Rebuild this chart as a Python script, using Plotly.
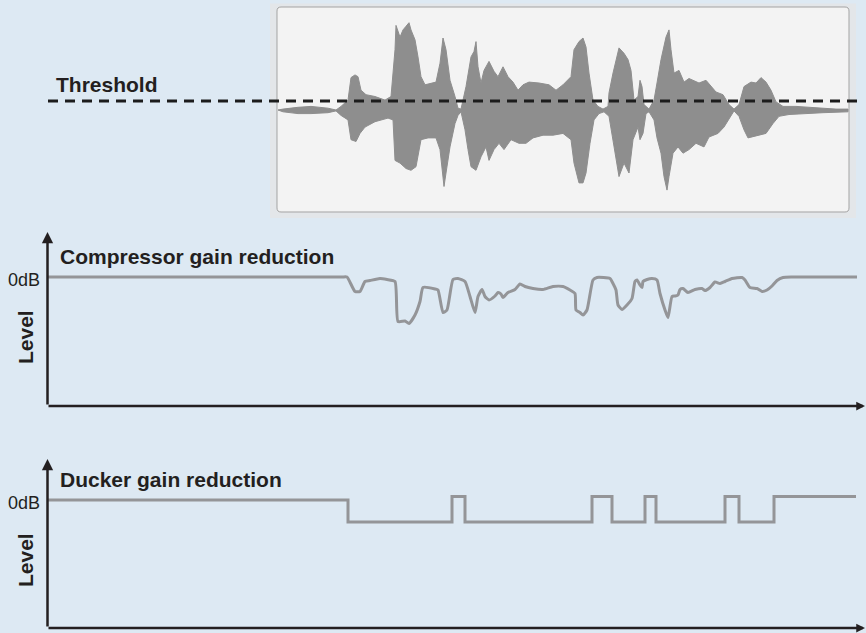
import plotly.graph_objects as go

# ---------------- data ----------------
# waveform envelope (time in s, normalised amplitude)
wave_up_t = [2.31, 2.36, 2.51, 2.64, 2.81, 2.89, 2.94, 3.01, 3.04, 3.08, 3.11, 3.14, 3.19, 3.28, 3.38, 3.44,
             3.48, 3.49, 3.53, 3.56, 3.59, 3.62, 3.64, 3.68, 3.71, 3.74, 3.78, 3.84, 3.89, 3.93, 3.96, 3.99,
             4.03, 4.08, 4.11, 4.14, 4.18, 4.19, 4.24, 4.27, 4.29, 4.31, 4.34, 4.37, 4.42, 4.47, 4.51, 4.56,
             4.61, 4.66, 4.71, 4.76, 4.82, 4.92, 5.02, 5.09, 5.16, 5.24, 5.27, 5.32, 5.36, 5.39, 5.42, 5.46,
             5.51, 5.56, 5.61, 5.62, 5.66, 5.72, 5.77, 5.81, 5.84, 5.87, 5.91, 5.93, 5.95, 5.97, 6.02, 6.07,
             6.10, 6.14, 6.19, 6.22, 6.24, 6.27, 6.32, 6.37, 6.42, 6.52, 6.59, 6.64, 6.69, 6.76, 6.82, 6.87,
             6.92, 6.97, 7.04, 7.09, 7.14, 7.19, 7.24, 7.29, 7.36, 7.49, 7.62, 7.76, 7.89, 8.01]
wave_up = [0.00, 0.01, 0.03, 0.04, 0.02, 0.00, 0.04, 0.11, 0.36, 0.39, 0.37, 0.22, 0.17, 0.15, 0.11, 0.15,
           0.67, 0.94, 0.81, 0.89, 0.93, 0.97, 0.89, 0.78, 0.59, 0.37, 0.28, 0.30, 0.31, 0.52, 0.80, 0.67,
           0.33, 0.15, 0.02, 0.01, 0.22, 0.26, 0.59, 0.65, 0.76, 0.48, 0.30, 0.44, 0.54, 0.43, 0.37, 0.48,
           0.37, 0.31, 0.22, 0.28, 0.31, 0.30, 0.28, 0.22, 0.28, 0.37, 0.67, 0.76, 0.80, 0.70, 0.41, 0.11,
           0.04, 0.01, 0.04, 0.19, 0.41, 0.69, 0.63, 0.56, 0.44, 0.11, 0.15, 0.33, 0.26, 0.06, 0.01, 0.11,
           0.30, 0.56, 0.81, 0.89, 0.67, 0.41, 0.44, 0.31, 0.35, 0.30, 0.33, 0.26, 0.20, 0.17, 0.06, 0.01,
           0.06, 0.26, 0.31, 0.30, 0.36, 0.31, 0.22, 0.09, 0.04, 0.04, 0.03, 0.02, 0.01, 0.01]
wave_lo_t = [2.31, 2.36, 2.51, 2.64, 2.81, 2.89, 2.94, 3.01, 3.04, 3.09, 3.13, 3.18, 3.28, 3.41, 3.46, 3.48,
             3.53, 3.59, 3.64, 3.69, 3.74, 3.81, 3.89, 3.93, 3.97, 3.99, 4.03, 4.08, 4.11, 4.14, 4.18, 4.21,
             4.24, 4.29, 4.34, 4.39, 4.42, 4.47, 4.52, 4.57, 4.64, 4.72, 4.79, 4.86, 4.96, 5.06, 5.16, 5.24,
             5.27, 5.32, 5.36, 5.39, 5.43, 5.47, 5.52, 5.57, 5.62, 5.67, 5.72, 5.77, 5.82, 5.86, 5.91, 5.93,
             5.96, 5.99, 6.02, 6.07, 6.10, 6.14, 6.17, 6.20, 6.22, 6.26, 6.31, 6.36, 6.42, 6.49, 6.57, 6.62,
             6.71, 6.77, 6.84, 6.87, 6.92, 6.97, 7.01, 7.06, 7.11, 7.19, 7.26, 7.32, 7.42, 7.56, 7.76, 8.01]
wave_lo = [0.00, -0.02, -0.04, -0.04, -0.03, -0.01, -0.06, -0.11, -0.33, -0.35, -0.26, -0.19, -0.13, -0.09, -0.11, -0.56,
           -0.59, -0.65, -0.67, -0.63, -0.33, -0.31, -0.31, -0.44, -0.85, -0.70, -0.41, -0.15, -0.06, -0.02, -0.22, -0.44,
           -0.63, -0.67, -0.52, -0.41, -0.56, -0.44, -0.37, -0.44, -0.33, -0.37, -0.37, -0.31, -0.28, -0.28, -0.26, -0.33,
           -0.59, -0.81, -0.81, -0.70, -0.37, -0.11, -0.04, -0.02, -0.07, -0.41, -0.74, -0.59, -0.70, -0.33, -0.19, -0.33,
           -0.26, -0.04, -0.02, -0.11, -0.31, -0.48, -0.74, -0.89, -0.74, -0.48, -0.41, -0.48, -0.44, -0.37, -0.41, -0.30,
           -0.26, -0.19, -0.06, -0.01, -0.07, -0.22, -0.31, -0.30, -0.28, -0.26, -0.15, -0.07, -0.05, -0.04, -0.03, -0.02]
THRESHOLD = 0.10

# compressor gain reduction (dB)
comp_t = [0.00, 2.95, 3.00, 3.08, 3.13, 3.18, 3.23, 3.33, 3.40, 3.48, 3.51, 3.58, 3.62, 3.68, 3.73, 3.76, 3.88,
          3.91, 3.96, 4.00, 4.06, 4.11, 4.18, 4.23, 4.28, 4.31, 4.35, 4.38, 4.42, 4.48, 4.51, 4.54, 4.56,
          4.61, 4.68, 4.73, 4.78, 4.86, 4.96, 5.06, 5.16, 5.23, 5.28, 5.29, 5.33, 5.36, 5.40, 5.46, 5.50,
          5.63, 5.66, 5.69, 5.71, 5.75, 5.80, 5.85, 5.88, 5.90, 5.93, 5.95, 5.96, 6.00, 6.05, 6.10, 6.13,
          6.18, 6.21, 6.25, 6.28, 6.31, 6.33, 6.36, 6.41, 6.48, 6.55, 6.58, 6.63, 6.68, 6.73, 6.78, 6.85,
          6.95, 6.98, 7.03, 7.10, 7.15, 7.20, 7.25, 7.30, 7.36, 7.45, 8.10]
comp_db = [0.0, 0.0, 0.0, -2.9, -2.9, -0.9, -0.7, -0.3, -0.5, -0.9, -8.9, -8.8, -9.3, -7.6, -4.9, -2.1, -2.4,
           -2.6, -7.1, -6.6, -0.5, -0.3, -0.9, -3.9, -7.1, -3.9, -2.5, -3.9, -4.6, -3.8, -3.1, -3.4, -4.1,
           -3.1, -2.5, -1.4, -1.9, -2.3, -2.5, -1.9, -1.9, -2.6, -3.3, -6.6, -7.1, -7.6, -6.6, -0.6, -0.1,
           -0.3, -1.3, -2.6, -5.6, -6.5, -5.6, -4.3, -0.9, -0.6, -1.6, -2.1, -0.9, -0.5, -0.3, -0.6, -3.3,
           -6.6, -8.1, -3.9, -3.8, -3.6, -2.5, -2.3, -3.1, -2.5, -2.3, -2.7, -2.1, -1.0, -1.3, -0.9, -0.3,
           -0.1, -0.6, -2.1, -2.3, -2.9, -2.6, -1.8, -0.7, -0.1, 0.0, 0.0]

# ducker gain reduction (dB), step changes
duck_t = [0.00, 3.01, 4.05, 4.18, 5.45, 5.65, 5.98, 6.09, 6.78, 6.92, 7.27, 8.09]
duck_db = [0.0, -4.4, 0.7, -4.4, 0.7, -4.4, 0.7, -4.4, 0.7, -4.4, 0.7, 0.7]

# ---------------- layout helpers ----------------
W, H = 866, 633
BG = "#dde9f3"
TXT = "#231f20"
LINE_GRAY = "#949598"
FONT = "Liberation Sans, Arial, sans-serif"


def px(x):
    return x / W


def py(y):
    return 1 - y / H


fig = go.Figure()

# waveform as closed polygon
fig.add_trace(go.Scatter(
    x=wave_up_t + wave_lo_t[::-1], y=wave_up + wave_lo[::-1],
    fill="toself", fillcolor="#8e8e8e", mode="lines",
    line=dict(color="#8e8e8e", width=1), xaxis="x", yaxis="y", hoverinfo="skip"))

fig.add_trace(go.Scatter(
    x=comp_t, y=comp_db, mode="lines", line=dict(color=LINE_GRAY, width=3, shape="spline", smoothing=0.5),
    xaxis="x2", yaxis="y2", hoverinfo="skip"))

fig.add_trace(go.Scatter(
    x=duck_t, y=duck_db, mode="lines", line=dict(color=LINE_GRAY, width=3, shape="hv"),
    xaxis="x3", yaxis="y3", hoverinfo="skip"))

xdom = [px(47), px(862)]
xr = [0, 8.15]
ax_common = dict(visible=False, fixedrange=True)


def rounded(x0, y0, x1, y1, r):
    X = lambda v: f"{px(v):.5f}"
    Y = lambda v: f"{py(v):.5f}"
    return (f"M {X(x0 + r)},{Y(y0)} L {X(x1 - r)},{Y(y0)} Q {X(x1)},{Y(y0)} {X(x1)},{Y(y0 + r)} "
            f"L {X(x1)},{Y(y1 - r)} Q {X(x1)},{Y(y1)} {X(x1 - r)},{Y(y1)} "
            f"L {X(x0 + r)},{Y(y1)} Q {X(x0)},{Y(y1)} {X(x0)},{Y(y1 - r)} "
            f"L {X(x0)},{Y(y0 + r)} Q {X(x0)},{Y(y0)} {X(x0 + r)},{Y(y0)} Z")


shapes = [
    dict(type="rect", xref="paper", yref="paper", x0=px(270), x1=px(856), y0=py(218), y1=py(3.5),
         fillcolor="#e3e6e9", line=dict(width=0), layer="below"),
    dict(type="path", xref="paper", yref="paper", path=rounded(277, 7, 849, 212, 4),
         fillcolor="#f3f3f3", line=dict(color="#a3a3a3", width=1), layer="below"),
    dict(type="line", xref="paper", yref="y", x0=px(48), x1=px(858), y0=THRESHOLD, y1=THRESHOLD,
         line=dict(color="#1c1c1c", width=3, dash="10px,7px"), layer="above"),
]

annotations = []


def arrow(x_tip, y_tip, dx, dy, size):
    annotations.append(dict(xref="paper", yref="paper", x=px(x_tip), y=py(y_tip), text="",
                            showarrow=True, ax=dx, ay=dy, axref="pixel", ayref="pixel",
                            arrowhead=2, arrowsize=size, arrowwidth=2.5, arrowcolor=TXT, standoff=0))


def label(text, x, y, size=21, bold=True, xanchor="left", angle=0):
    annotations.append(dict(xref="paper", yref="paper", x=px(x), y=py(y), text=f"<b>{text}</b>" if bold else text,
                            showarrow=False, xanchor=xanchor, yanchor="middle", textangle=angle,
                            font=dict(family=FONT, size=size, color=TXT)))


# compressor axes
arrow(47.5, 232, 0, 174, 0.9)
arrow(865, 406, -818, 0, 0.7)
# ducker axes
arrow(47.5, 459, 0, 169, 0.9)
arrow(865, 628, -818, 0, 0.7)

label("Threshold", 54, 84)
label("Compressor gain reduction", 58, 257)
label("Ducker gain reduction", 58, 480)
label("0dB", 42, 280, size=18, bold=False, xanchor="right")
label("0dB", 42, 503, size=18, bold=False, xanchor="right")
label("Level", 25, 337, xanchor="center", angle=-90)
label("Level", 25, 560, xanchor="center", angle=-90)

fig.update_layout(
    width=W, height=H, margin=dict(l=0, r=0, t=0, b=0),
    paper_bgcolor=BG, plot_bgcolor="rgba(0,0,0,0)", showlegend=False,
    xaxis=dict(domain=xdom, range=xr, anchor="y", **ax_common),
    yaxis=dict(domain=[py(200), py(20)], range=[-1, 1], anchor="x", **ax_common),
    xaxis2=dict(domain=xdom, range=xr, anchor="y2", **ax_common),
    yaxis2=dict(domain=[py(406), py(234)], range=[-25.8, 8.6], anchor="x2", **ax_common),
    xaxis3=dict(domain=xdom, range=xr, anchor="y3", **ax_common),
    yaxis3=dict(domain=[py(628), py(461)], range=[-25.6, 7.8], anchor="x3", **ax_common),
    shapes=shapes, annotations=annotations,
)

fig.write_html("out.html", config={"displayModeBar": False},
               post_script="document.body.style.margin='0';document.body.style.overflow='hidden';")
